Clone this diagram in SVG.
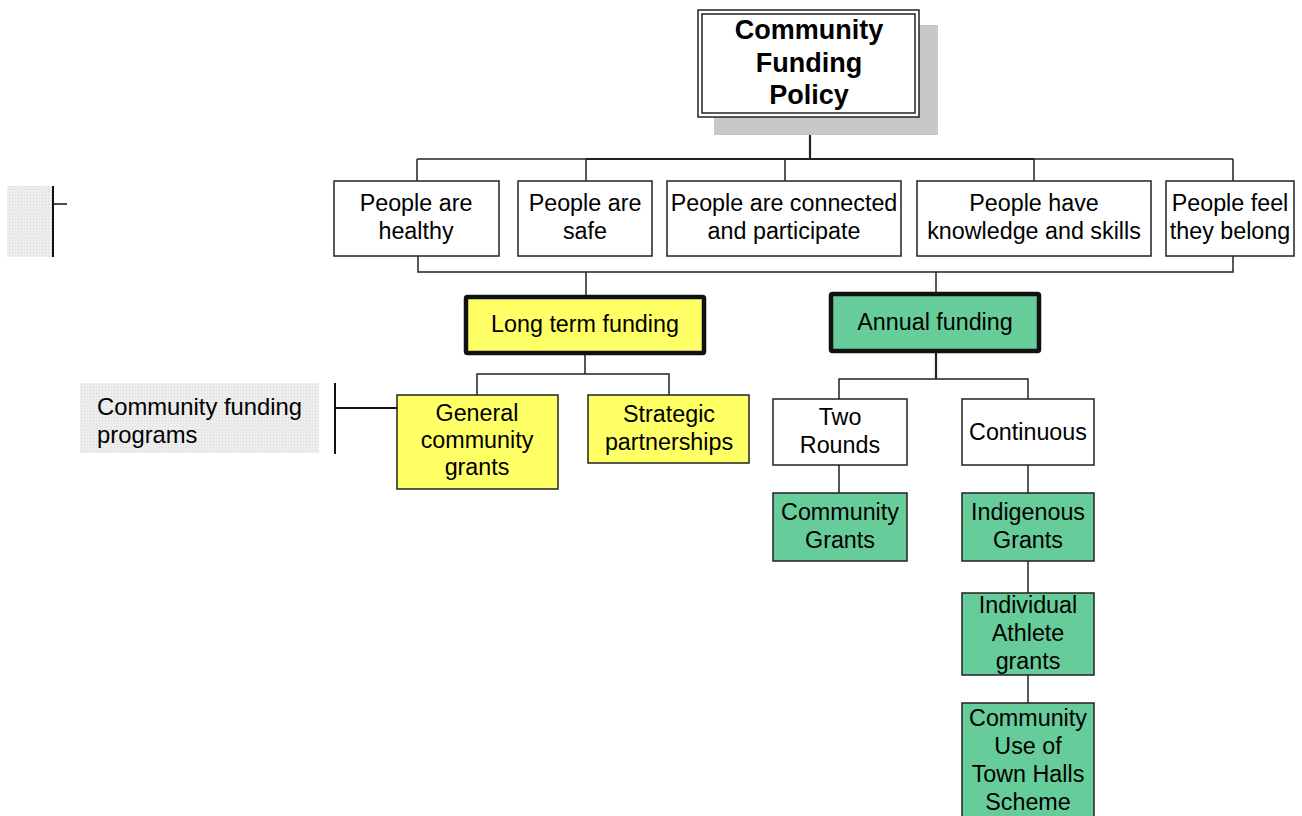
<svg xmlns="http://www.w3.org/2000/svg" width="1302" height="816" viewBox="0 0 1302 816">
<style>
text{font-family:"Liberation Sans",Arial,sans-serif;font-size:23.3px;fill:#000;text-anchor:middle}
.box{fill:#fff;stroke:#222;stroke-width:1.5}
.yel{fill:#ffff66;stroke:#222;stroke-width:1.5}
.grn{fill:#66cc99;stroke:#222;stroke-width:1.5}
.thick{stroke:#111;stroke-width:4.5}
.con line,.con path{stroke:#222;stroke-width:1.5;fill:none}
.root text{font-weight:bold;font-size:27px}
</style>
<defs>
<pattern id="dots" width="3" height="3" patternUnits="userSpaceOnUse">
<rect width="3" height="3" fill="#ededed"/>
<rect width="1" height="1" fill="#dadada"/>
</pattern>
</defs>
<rect width="1302" height="816" fill="#fff"/>

<g id="legend-top">
<rect x="7" y="186" width="46" height="71" fill="url(#dots)"/>
<line x1="53" y1="186" x2="53" y2="257" stroke="#111" stroke-width="2"/>
<line x1="53" y1="204" x2="67" y2="204" stroke="#111" stroke-width="1.5"/>
</g>

<g id="legend-programs">
<rect x="80" y="383" width="239" height="70" fill="url(#dots)"/>
<text x="97" y="415" style="text-anchor:start;font-size:23.8px">Community funding</text>
<text x="97" y="443" style="text-anchor:start;font-size:23.8px">programs</text>
<line x1="335" y1="383" x2="335" y2="454" stroke="#111" stroke-width="2"/>
</g>

<g class="con" id="connectors">
<line x1="810" y1="117" x2="810" y2="159" style="stroke-width:2.2"/>
<line x1="417" y1="159" x2="1233" y2="159"/>
<line x1="586" y1="159" x2="1034" y2="159" style="stroke-width:2"/>
<line x1="417" y1="159" x2="417" y2="181"/>
<line x1="586" y1="159" x2="586" y2="181"/>
<line x1="785" y1="159" x2="785" y2="181"/>
<line x1="1034" y1="159" x2="1034" y2="181"/>
<line x1="1233" y1="159" x2="1233" y2="181"/>
<path d="M418,256 V272 H1233 V256"/>
<line x1="586" y1="272" x2="586" y2="296"/>
<line x1="936" y1="272" x2="936" y2="293"/>
<line x1="585" y1="353" x2="585" y2="374"/>
<path d="M477,395 V374 H669 V395"/>
<line x1="936" y1="351" x2="936" y2="379" style="stroke-width:2.2"/>
<path d="M839,399 V379 H1028 V399"/>
<line x1="839" y1="465" x2="839" y2="493"/>
<line x1="1028" y1="465" x2="1028" y2="493"/>
<line x1="1028" y1="561" x2="1028" y2="593"/>
<line x1="1028" y1="675" x2="1028" y2="703"/>
<line x1="335" y1="408" x2="397" y2="408" style="stroke:#111;stroke-width:2"/>
</g>

<g id="root" class="root">
<rect x="714" y="25" width="224" height="110" fill="#c8c8c8"/>
<rect x="698" y="10" width="221" height="107" fill="#fff" stroke="#222" stroke-width="1.5"/>
<rect x="702" y="14" width="213" height="99" fill="none" stroke="#222" stroke-width="1.5"/>
<text x="809" y="39">Community</text>
<text x="809" y="72">Funding</text>
<text x="809" y="104">Policy</text>
</g>

<g id="healthy"><rect class="box" x="334" y="181" width="165" height="75"/><text x="416" y="211">People are</text><text x="416" y="239">healthy</text></g>
<g id="safe"><rect class="box" x="518" y="181" width="134" height="75"/><text x="585" y="211">People are</text><text x="585" y="239">safe</text></g>
<g id="connected"><rect class="box" x="667" y="181" width="234" height="75"/><text x="784" y="211">People are connected</text><text x="784" y="239">and participate</text></g>
<g id="knowledge"><rect class="box" x="917" y="181" width="234" height="75"/><text x="1034" y="211">People have</text><text x="1034" y="239">knowledge and skills</text></g>
<g id="belong"><rect class="box" x="1166" y="181" width="128" height="75"/><text x="1230" y="211">People feel</text><text x="1230" y="239">they belong</text></g>

<g id="longterm"><rect class="yel thick" x="466" y="297" width="238" height="56" rx="1.5"/><text x="585" y="332">Long term funding</text></g>
<g id="annual"><rect class="grn thick" x="831" y="294" width="208" height="57" rx="1.5"/><text x="935" y="330">Annual funding</text></g>

<g id="general"><rect class="yel" x="397" y="395" width="161" height="94"/><text x="477" y="421">General</text><text x="477" y="448">community</text><text x="477" y="475">grants</text></g>
<g id="strategic"><rect class="yel" x="588" y="395" width="161" height="68"/><text x="669" y="422">Strategic</text><text x="669" y="450">partnerships</text></g>

<g id="tworounds"><rect class="box" x="773" y="399" width="134" height="66"/><text x="840" y="425">Two</text><text x="840" y="453">Rounds</text></g>
<g id="continuous"><rect class="box" x="962" y="399" width="132" height="66"/><text x="1028" y="440">Continuous</text></g>

<g id="communitygrants"><rect class="grn" x="773" y="493" width="134" height="68"/><text x="840" y="520">Community</text><text x="840" y="548">Grants</text></g>
<g id="indigenous"><rect class="grn" x="962" y="493" width="132" height="68"/><text x="1028" y="520">Indigenous</text><text x="1028" y="548">Grants</text></g>
<g id="athlete"><rect class="grn" x="962" y="593" width="132" height="82"/><text x="1028" y="613">Individual</text><text x="1028" y="641">Athlete</text><text x="1028" y="669">grants</text></g>
<g id="townhalls"><rect class="grn" x="962" y="703" width="132" height="120"/><text x="1028" y="726">Community</text><text x="1028" y="754">Use of</text><text x="1028" y="782">Town Halls</text><text x="1028" y="810">Scheme</text></g>
</svg>
